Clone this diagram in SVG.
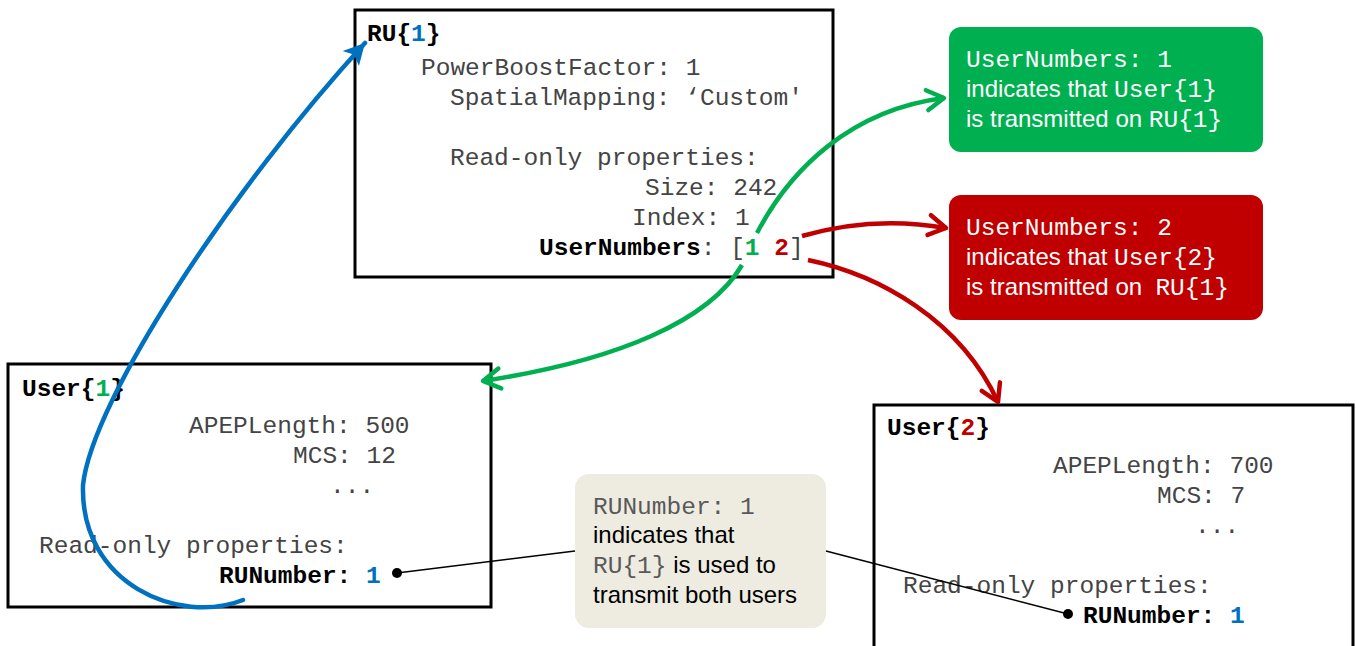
<svg xmlns="http://www.w3.org/2000/svg" width="1356" height="646" viewBox="0 0 1356 646">
<style>
.box{fill:#fff;stroke:#000;stroke-width:3}
.m{font-family:"Liberation Mono","Courier New",monospace;font-size:24.5px;fill:#444}
.b{font-weight:bold;fill:#000}
.s{font-family:"Liberation Sans",Arial,sans-serif;font-size:24px}
.w{fill:#fff}
.blue{fill:#0070c0}
.grn{fill:#00b050}
.red{fill:#c00000}
.con{fill:none;stroke-width:4.5}
</style>
<defs>
<marker id="ab" markerUnits="userSpaceOnUse" markerWidth="40" markerHeight="40" viewBox="-30 -20 40 40" refX="0" refY="0" orient="auto">
<path d="M-21,-11 L0,0 L-21,11 L-16,0 Z" fill="#0070c0"/>
</marker>
<marker id="ag" markerUnits="userSpaceOnUse" markerWidth="40" markerHeight="40" viewBox="-30 -20 40 40" refX="0" refY="0" orient="auto">
<path d="M-17,-10 L0,0 L-17,10" fill="none" stroke="#00b050" stroke-width="4.5" stroke-linecap="round" stroke-linejoin="round"/>
</marker>
<marker id="ar" markerUnits="userSpaceOnUse" markerWidth="40" markerHeight="40" viewBox="-30 -20 40 40" refX="0" refY="0" orient="auto">
<path d="M-17,-10 L0,0 L-17,10" fill="none" stroke="#c00000" stroke-width="4.5" stroke-linecap="round" stroke-linejoin="round"/>
</marker>
</defs>
<rect width="1356" height="646" fill="#fff"/>

<g id="ru1">
<rect class="box" x="355" y="10" width="478" height="267"/>
<text class="m b" x="367" y="41">RU{<tspan class="blue">1</tspan>}</text>
<text class="m" x="421" y="75">PowerBoostFactor: 1</text>
<text class="m" x="450" y="105">SpatialMapping: ‘Custom'</text>
<text class="m" x="450" y="165">Read-only properties:</text>
<text class="m" x="645" y="195">Size: 242</text>
<text class="m" x="632" y="225">Index: 1</text>
<text class="m" x="539" y="255" xml:space="preserve"><tspan class="b">UserNumbers</tspan>: [<tspan class="b grn">1</tspan> <tspan class="b red">2</tspan>]</text>
</g>

<g id="user1">
<rect class="box" x="8" y="364" width="483" height="243"/>
<text class="m b" x="22" y="396">User{<tspan class="grn">1</tspan>}</text>
<text class="m" x="189" y="433">APEPLength: 500</text>
<text class="m" x="293" y="463">MCS: 12</text>
<text class="m" x="330" y="493">...</text>
<text class="m" x="39" y="553">Read-only properties:</text>
<text class="m b" x="219" y="583">RUNumber: <tspan class="blue">1</tspan></text>
</g>

<g id="user2">
<rect class="box" x="874" y="405" width="479" height="245"/>
<text class="m b" x="887" y="435">User{<tspan class="red">2</tspan>}</text>
<text class="m" x="1053" y="473">APEPLength: 700</text>
<text class="m" x="1157" y="503">MCS: 7</text>
<text class="m" x="1195" y="533">...</text>
<text class="m" x="903" y="593">Read-only properties:</text>
<text class="m b" x="1083" y="623">RUNumber: <tspan class="blue">1</tspan></text>
</g>

<g id="note-green">
<rect x="949" y="27" width="314" height="125" rx="12" fill="#00b050"/>
<text class="m w" x="966" y="67">UserNumbers: 1</text>
<text class="s w" x="966" y="97" xml:space="preserve">indicates that <tspan class="m w" font-size="23.5">User{1}</tspan></text>
<text class="s w" x="966" y="127" xml:space="preserve">is transmitted on <tspan class="m w" font-size="23.5">RU{1}</tspan></text>
</g>

<g id="note-red">
<rect x="949" y="195" width="314" height="125" rx="12" fill="#c00000"/>
<text class="m w" x="966" y="235">UserNumbers: 2</text>
<text class="s w" x="966" y="265" xml:space="preserve">indicates that <tspan class="m w" font-size="23.5">User{2}</tspan></text>
<text class="s w" x="966" y="295" xml:space="preserve">is transmitted on  <tspan class="m w" font-size="23.5">RU{1}</tspan></text>
</g>

<g id="note-ru">
<rect x="575" y="474" width="251" height="154" rx="14" fill="#eeece1"/>
<text class="m" x="593" y="514" style="fill:#595959">RUNumber: 1</text>
<text class="s" x="593" y="543">indicates that</text>
<text class="s" x="593" y="573" xml:space="preserve"><tspan class="m" style="fill:#595959" font-size="23.5">RU{1}</tspan> is used to</text>
<text class="s" x="593" y="603">transmit both users</text>
</g>

<g id="connectors">
<path class="con" stroke="#0070c0" stroke-linecap="round" d="M243,600 C180,625 80,585 83,485 C92,400 232,188 365,43" marker-end="url(#ab)"/>
<path class="con" stroke="#00b050" d="M757,233 C790,170 850,110 944,98" marker-end="url(#ag)"/>
<path class="con" stroke="#00b050" d="M742,265 C710,320 620,360 483,381" marker-end="url(#ag)"/>
<path class="con" stroke="#c00000" d="M802,236 C850,222 900,220 946,228" marker-end="url(#ar)"/>
<path class="con" stroke="#c00000" d="M808,260 C880,275 960,320 998,402" marker-end="url(#ar)"/>
<line x1="397" y1="573" x2="575" y2="551" stroke="#000" stroke-width="1.5"/>
<line x1="826" y1="551" x2="1068" y2="614" stroke="#000" stroke-width="1.5"/>
<circle cx="397" cy="573" r="5" fill="#000"/>
<circle cx="1068" cy="614" r="5" fill="#000"/>
</g>
</svg>
